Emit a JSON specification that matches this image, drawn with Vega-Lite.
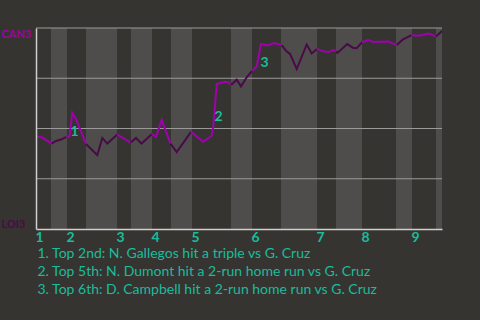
{
  "$schema": "https://vega.github.io/schema/vega-lite/v6.json",
  "width": 406,
  "height": 201,
  "autosize": "none",
  "padding": {"left": 36, "top": 28, "right": 38, "bottom": 91},
  "background": "#363431",
  "config": {"view": {"stroke": null}},
  "datasets": {
    "bands": [
      {"start": 15, "end": 31}, {"start": 50, "end": 81}, {"start": 95, "end": 116},
      {"start": 135, "end": 156}, {"start": 195, "end": 216}, {"start": 245, "end": 281},
      {"start": 300, "end": 326}, {"start": 360, "end": 376}, {"start": 400, "end": 406}
    ],
    "grid": [{"g": 25}, {"g": 50}, {"g": 75}, {"g": 100}],
    "wp": [
      {"seg": 1, "side": "T", "t": 0, "p": 45.9}, {"seg": 1, "side": "T", "t": 6, "p": 45.6}, {"seg": 1, "side": "T", "t": 15.5, "p": 42.5},
      {"seg": 2, "side": "B", "t": 15.5, "p": 42.5}, {"seg": 2, "side": "B", "t": 20, "p": 43.8}, {"seg": 2, "side": "B", "t": 25, "p": 44.5}, {"seg": 2, "side": "B", "t": 30.5, "p": 45.8},
      {"seg": 3, "side": "T", "t": 30.5, "p": 45.8}, {"seg": 3, "side": "T", "t": 33.5, "p": 46.0}, {"seg": 3, "side": "T", "t": 36.3, "p": 57.7}, {"seg": 3, "side": "T", "t": 40, "p": 54.7}, {"seg": 3, "side": "T", "t": 50, "p": 42.3},
      {"seg": 4, "side": "B", "t": 50, "p": 42.3}, {"seg": 4, "side": "B", "t": 53, "p": 40.8}, {"seg": 4, "side": "B", "t": 61.3, "p": 36.8}, {"seg": 4, "side": "B", "t": 66.3, "p": 45.3}, {"seg": 4, "side": "B", "t": 71.3, "p": 42.5}, {"seg": 4, "side": "B", "t": 81.3, "p": 47.0},
      {"seg": 5, "side": "T", "t": 81.3, "p": 47.0}, {"seg": 5, "side": "T", "t": 86.3, "p": 45.5}, {"seg": 5, "side": "T", "t": 94.7, "p": 43.0},
      {"seg": 6, "side": "B", "t": 94.7, "p": 43.0}, {"seg": 6, "side": "B", "t": 100, "p": 45.3}, {"seg": 6, "side": "B", "t": 105.5, "p": 42.5}, {"seg": 6, "side": "B", "t": 116, "p": 47.3},
      {"seg": 7, "side": "T", "t": 116, "p": 47.3}, {"seg": 7, "side": "T", "t": 120, "p": 45.8}, {"seg": 7, "side": "T", "t": 125.7, "p": 54.2}, {"seg": 7, "side": "T", "t": 134.5, "p": 42.5},
      {"seg": 8, "side": "B", "t": 134.5, "p": 42.5}, {"seg": 8, "side": "B", "t": 140.7, "p": 38.3}, {"seg": 8, "side": "B", "t": 155, "p": 48.3},
      {"seg": 9, "side": "T", "t": 155, "p": 48.3}, {"seg": 9, "side": "T", "t": 167.3, "p": 43.4}, {"seg": 9, "side": "T", "t": 175.7, "p": 46.4}, {"seg": 9, "side": "T", "t": 177.3, "p": 50.9}, {"seg": 9, "side": "T", "t": 180.7, "p": 72.1}, {"seg": 9, "side": "T", "t": 189, "p": 73.3}, {"seg": 9, "side": "T", "t": 192.3, "p": 73.0}, {"seg": 9, "side": "T", "t": 195, "p": 71.6},
      {"seg": 10, "side": "B", "t": 195, "p": 71.6}, {"seg": 10, "side": "B", "t": 200.7, "p": 74.3}, {"seg": 10, "side": "B", "t": 205, "p": 71.0}, {"seg": 10, "side": "B", "t": 210.7, "p": 75.5}, {"seg": 10, "side": "B", "t": 216, "p": 78.6},
      {"seg": 11, "side": "T", "t": 216, "p": 78.6}, {"seg": 11, "side": "T", "t": 220.7, "p": 80.9}, {"seg": 11, "side": "T", "t": 225, "p": 92.0}, {"seg": 11, "side": "T", "t": 232.3, "p": 91.3}, {"seg": 11, "side": "T", "t": 238, "p": 92.5}, {"seg": 11, "side": "T", "t": 245.7, "p": 91.5},
      {"seg": 12, "side": "B", "t": 245.7, "p": 91.5}, {"seg": 12, "side": "B", "t": 250, "p": 88.6}, {"seg": 12, "side": "B", "t": 254, "p": 87.1}, {"seg": 12, "side": "B", "t": 260.7, "p": 79.6}, {"seg": 12, "side": "B", "t": 270.7, "p": 91.8}, {"seg": 12, "side": "B", "t": 275.7, "p": 87.3}, {"seg": 12, "side": "B", "t": 281, "p": 89.6},
      {"seg": 13, "side": "T", "t": 281, "p": 89.6}, {"seg": 13, "side": "T", "t": 286, "p": 88.6}, {"seg": 13, "side": "T", "t": 292.3, "p": 87.9}, {"seg": 13, "side": "T", "t": 297.3, "p": 89.1}, {"seg": 13, "side": "T", "t": 300, "p": 88.3},
      {"seg": 14, "side": "B", "t": 300, "p": 88.3}, {"seg": 14, "side": "B", "t": 301.3, "p": 87.6}, {"seg": 14, "side": "B", "t": 311.3, "p": 92.0}, {"seg": 14, "side": "B", "t": 316.7, "p": 90.2}, {"seg": 14, "side": "B", "t": 320.7, "p": 89.9}, {"seg": 14, "side": "B", "t": 326, "p": 92.9},
      {"seg": 15, "side": "T", "t": 326, "p": 92.9}, {"seg": 15, "side": "T", "t": 332.3, "p": 94.0}, {"seg": 15, "side": "T", "t": 337.3, "p": 93.0}, {"seg": 15, "side": "T", "t": 352.3, "p": 93.3}, {"seg": 15, "side": "T", "t": 360.7, "p": 91.5},
      {"seg": 16, "side": "B", "t": 360.7, "p": 91.5}, {"seg": 16, "side": "B", "t": 367, "p": 94.3}, {"seg": 16, "side": "B", "t": 375.7, "p": 96.5},
      {"seg": 17, "side": "T", "t": 375.7, "p": 96.5}, {"seg": 17, "side": "T", "t": 382.3, "p": 96.2}, {"seg": 17, "side": "T", "t": 393, "p": 97.2}, {"seg": 17, "side": "T", "t": 400, "p": 95.8},
      {"seg": 18, "side": "B", "t": 400, "p": 95.8}, {"seg": 18, "side": "B", "t": 406, "p": 98.5}
    ],
    "marks": [
      {"n": "1", "t": 38.5, "p": 48.3},
      {"n": "2", "t": 182.5, "p": 55.7},
      {"n": "3", "t": 228.5, "p": 82.8}
    ]
  },
  "layer": [
    {
      "data": {"name": "bands"},
      "mark": {"type": "rect", "color": "#4e4d4b"},
      "encoding": {
        "x": {"field": "start", "type": "quantitative", "scale": {"domain": [0, 406], "nice": false, "zero": false}},
        "x2": {"field": "end"}
      }
    },
    {
      "data": {"name": "grid"},
      "mark": {"type": "rule", "color": "#9a9a9a", "strokeWidth": 1},
      "encoding": {
        "y": {"field": "g", "type": "quantitative", "scale": {"domain": [0, 100], "nice": false}}
      }
    },
    {
      "data": {"name": "wp"},
      "mark": {"type": "line", "strokeWidth": 2, "clip": false},
      "encoding": {
        "x": {
          "field": "t", "type": "quantitative",
          "scale": {"domain": [0, 406], "nice": false, "zero": false},
          "axis": {
            "zindex": 1,
            "values": [0, 31, 81, 116, 156, 216, 281, 326, 376],
            "labelExpr": "{'0':'1','31':'2','81':'3','116':'4','156':'5','216':'6','281':'7','326':'8','376':'9'}[datum.value]",
            "labelAlign": "left", "labelBaseline": "top", "labelFlush": false, "labelOverlap": false,
            "labelColor": "#1abc9c", "labelFont": "Lato", "labelFontWeight": "bold", "labelFontSize": 14,
            "labelPadding": 1, "labelOffset": -1, "ticks": false, "grid": false,
            "domainColor": "#cfcfcf", "domainWidth": 1.5,
            "title": ["1. Top 2nd: N. Gallegos hit a triple vs G. Cruz", "2. Top 5th: N. Dumont hit a 2-run home run vs G. Cruz", "3. Top 6th: D. Campbell hit a 2-run home run vs G. Cruz"],
            "titleColor": "#1abc9c", "titleFont": "Lato", "titleFontWeight": "normal", "titleFontSize": 14,
            "titleAnchor": "start", "titleAlign": "left", "titleBaseline": "alphabetic",
            "titleX": 1, "titleY": 28, "titleLineHeight": 18
          }
        },
        "y": {
          "field": "p", "type": "quantitative",
          "scale": {"domain": [0, 100], "nice": false},
          "axis": {
            "zindex": 1,
            "values": [0, 100],
            "grid": false,
            "ticks": false, "domainColor": "#cfcfcf", "domainWidth": 1.5,
            "labelExpr": "datum.value == 100 ? 'CAN3' : 'LOI3'",
            "labelColor": {"condition": {"test": "datum.value == 100", "value": "#a000ad"}, "value": "#4a0a4a"},
            "labelFont": "Lato", "labelFontWeight": "bold", "labelFontSize": 11,
            "labelAlign": "left", "labelPadding": 35, "labelFlush": true, "labelFlushOffset": 0,
            "title": null
          }
        },
        "color": {"field": "side", "type": "nominal", "scale": {"domain": ["T", "B"], "range": ["#a000ad", "#4a0a4a"]}, "legend": null},
        "detail": {"field": "seg", "type": "nominal"}
      }
    },
    {
      "data": {"name": "marks"},
      "mark": {"type": "text", "color": "#1abc9c", "font": "Lato", "fontWeight": "bold", "fontSize": 14, "align": "center", "baseline": "middle"},
      "encoding": {
        "x": {"field": "t", "type": "quantitative"},
        "y": {"field": "p", "type": "quantitative"},
        "text": {"field": "n"}
      }
    }
  ]
}
